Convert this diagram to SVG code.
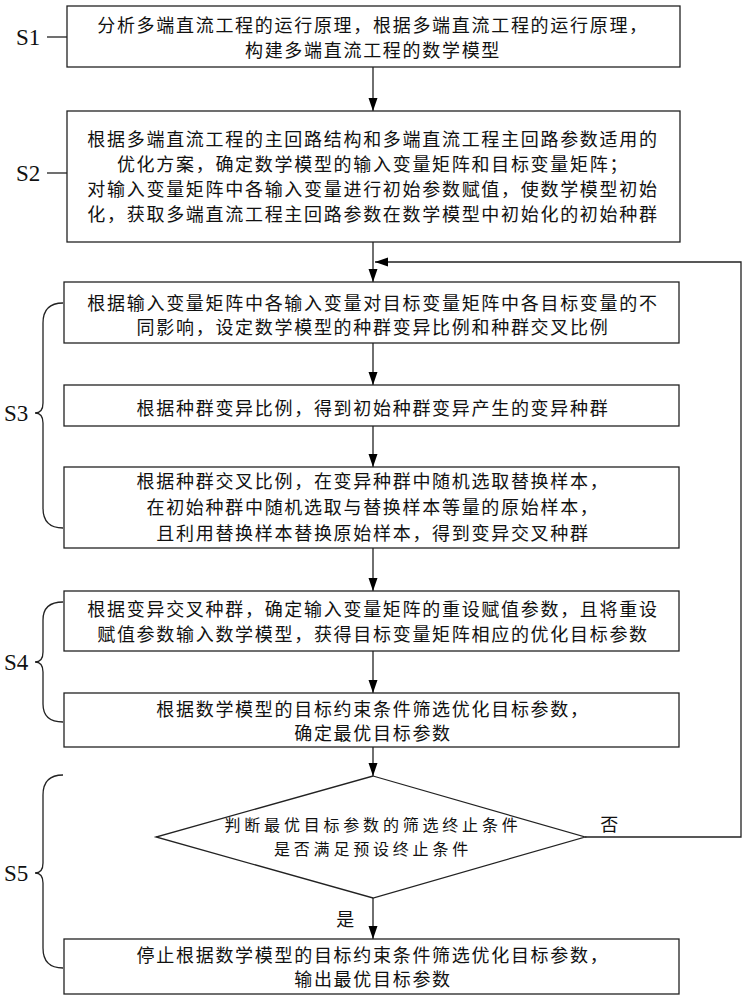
<svg xmlns="http://www.w3.org/2000/svg" width="746" height="1000" viewBox="0 0 746 1000">
<defs>
<marker id="ah" markerUnits="userSpaceOnUse" markerWidth="14" markerHeight="10" refX="13" refY="4.5" orient="auto"><path d="M0,0 L13,4.5 L0,9 z" fill="#000"/></marker>
<style>
.box{fill:#fff;stroke:#222;stroke-width:1.3}
.t{font-family:"Noto Sans CJK SC",sans-serif;font-size:18px;letter-spacing:1.7px;fill:#111;text-anchor:middle;dominant-baseline:central}
.d{font-size:16px;letter-spacing:3.8px}
.s{font-family:"Liberation Serif",serif;font-size:23px;fill:#111;dominant-baseline:central}
.c{fill:none;stroke:#222;stroke-width:1.3}
</style>
</defs>
<rect width="746" height="1000" fill="#fff"/>
<g id="labels">
<text class="s" x="16" y="37">S1</text><line class="c" x1="47" y1="37" x2="67" y2="37"/>
<text class="s" x="16" y="173">S2</text><line class="c" x1="47" y1="173" x2="67" y2="173"/>
<text class="s" x="4" y="413">S3</text>
<path class="c" d="M63,303 Q43,303 43,323 L43,403 Q43,413 35,413 Q43,413 43,423 L43,508 Q43,528 63,528"/>
<text class="s" x="4" y="662">S4</text>
<path class="c" d="M63,602 Q43,602 43,620 L43,652 Q43,662 35,662 Q43,662 43,672 L43,704 Q43,722 63,722"/>
<text class="s" x="4" y="873">S5</text>
<path class="c" d="M63,775 Q43,775 43,795 L43,863 Q43,873 35,873 Q43,873 43,883 L43,948 Q43,968 63,968"/>
</g>
<g id="connectors">
<line class="c" x1="373" y1="67" x2="373" y2="111" marker-end="url(#ah)"/>
<line class="c" x1="373" y1="242" x2="373" y2="282" marker-end="url(#ah)"/>
<line class="c" x1="373" y1="343" x2="373" y2="385" marker-end="url(#ah)"/>
<line class="c" x1="373" y1="426" x2="373" y2="467" marker-end="url(#ah)"/>
<line class="c" x1="373" y1="548" x2="373" y2="591" marker-end="url(#ah)"/>
<line class="c" x1="373" y1="651" x2="373" y2="693" marker-end="url(#ah)"/>
<line class="c" x1="373" y1="747" x2="373" y2="776" marker-end="url(#ah)"/>
<line class="c" x1="373" y1="898" x2="373" y2="939" marker-end="url(#ah)"/>
<polyline class="c" points="585,837 741,837 741,262 375,262" marker-end="url(#ah)"/>
<text class="t" x="610" y="823">否</text>
<text class="t" x="346" y="918">是</text>
</g>
<g id="n1"><rect class="box" x="67" y="6" width="613" height="61"/>
<text class="t" x="373" y="24">分析多端直流工程的运行原理，根据多端直流工程的运行原理，</text>
<text class="t" x="373" y="49">构建多端直流工程的数学模型</text></g>
<g id="n2"><rect class="box" x="67" y="111" width="613" height="131"/>
<text class="t" x="373" y="138">根据多端直流工程的主回路结构和多端直流工程主回路参数适用的</text>
<text class="t" x="373" y="163">优化方案，确定数学模型的输入变量矩阵和目标变量矩阵；</text>
<text class="t" x="373" y="188">对输入变量矩阵中各输入变量进行初始参数赋值，使数学模型初始</text>
<text class="t" x="373" y="213">化，获取多端直流工程主回路参数在数学模型中初始化的初始种群</text></g>
<g id="n3"><rect class="box" x="64" y="282" width="615" height="61"/>
<text class="t" x="373" y="302">根据输入变量矩阵中各输入变量对目标变量矩阵中各目标变量的不</text>
<text class="t" x="373" y="326">同影响，设定数学模型的种群变异比例和种群交叉比例</text></g>
<g id="n4"><rect class="box" x="64" y="385" width="615" height="41"/>
<text class="t" x="373" y="407">根据种群变异比例，得到初始种群变异产生的变异种群</text></g>
<g id="n5"><rect class="box" x="64" y="467" width="615" height="81"/>
<text class="t" x="373" y="480">根据种群交叉比例，在变异种群中随机选取替换样本，</text>
<text class="t" x="373" y="506">在初始种群中随机选取与替换样本等量的原始样本，</text>
<text class="t" x="373" y="532">且利用替换样本替换原始样本，得到变异交叉种群</text></g>
<g id="n6"><rect class="box" x="64" y="591" width="615" height="60"/>
<text class="t" x="373" y="608">根据变异交叉种群，确定输入变量矩阵的重设赋值参数，且将重设</text>
<text class="t" x="373" y="633">赋值参数输入数学模型，获得目标变量矩阵相应的优化目标参数</text></g>
<g id="n7"><rect class="box" x="64" y="693" width="615" height="54"/>
<text class="t" x="373" y="708">根据数学模型的目标约束条件筛选优化目标参数，</text>
<text class="t" x="373" y="732">确定最优目标参数</text></g>
<g id="n8"><polygon class="box" points="373,776 585,837 373,898 156,837"/>
<text class="t d" x="373" y="824">判断最优目标参数的筛选终止条件</text>
<text class="t d" x="373" y="848">是否满足预设终止条件</text></g>
<g id="n9"><rect class="box" x="64" y="939" width="615" height="55"/>
<text class="t" x="373" y="954">停止根据数学模型的目标约束条件筛选优化目标参数，</text>
<text class="t" x="373" y="978">输出最优目标参数</text></g>
</svg>
